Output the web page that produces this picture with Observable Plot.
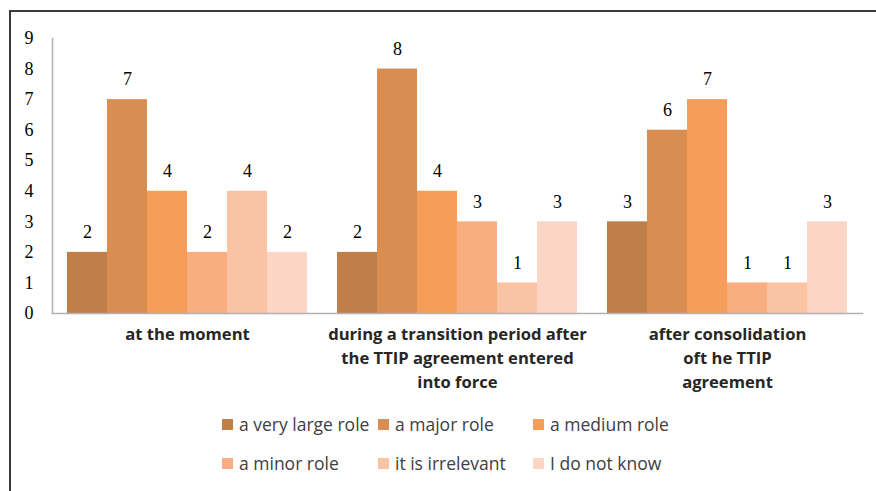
<!DOCTYPE html>
<html>
<head>
<meta charset="utf-8">
<script src="https://cdn.jsdelivr.net/npm/d3@7"></script>
<script src="https://cdn.jsdelivr.net/npm/@observablehq/plot@0.6"></script>
<style>
  html, body { margin: 0; padding: 0; background: #fff; }
  #wrap { position: relative; width: 876px; height: 491px; overflow: hidden; }
  #border { position: absolute; left: 9px; top: 10px; width: 900px; height: 520px; border: 2px solid #3a3a3a; box-sizing: border-box; }
  #chart { position: absolute; left: 0; top: 0; }
  #legend { position: absolute; left: 222px; top: 413px; display: grid; grid-template-columns: 156px 155px 160px; row-gap: 17px;
            font-family: "Open Sans", Lato, sans-serif; font-size: 17.5px; color: #404040; }
  .item { display: flex; align-items: center; height: 22px; white-space: nowrap; }
  .sw { width: 11px; height: 11px; margin-right: 6px; flex: none; }
</style>
</head>
<body>
<div id="wrap">
  <div id="border"></div>
  <div id="chart"></div>
  <div id="legend"></div>
</div>
<script>
const groups = ["at the moment", "during a transition period", "after consolidation"];
const groupLabels = ["at the moment", "during a transition period after\nthe TTIP agreement entered\ninto force", "after consolidation\noft he TTIP\nagreement"];
const series = ["a very large role", "a major role", "a medium role", "a minor role", "it is irrelevant", "I do not know"];
const valuesAtTheMoment = [2, 7, 4, 2, 4, 2];
const valuesTransition = [2, 8, 4, 3, 1, 3];
const valuesConsolidation = [3, 6, 7, 1, 1, 3];
const colors = ["#C07E48", "#DA8D50", "#F69E59", "#F8AE80", "#FAC4A4", "#FCD5C5"];
const yTicks = [0, 1, 2, 3, 4, 5, 6, 7, 8, 9];

const allValues = [valuesAtTheMoment, valuesTransition, valuesConsolidation];
const data = [];
groups.forEach((g, gi) => series.forEach((s, si) => data.push({group: g, series: s, value: allValues[gi][si]})));
const groupData = groups.map((g, i) => ({group: g, label: groupLabels[i]}));

const chart = Plot.plot({
  width: 876,
  height: 400,
  marginLeft: 52,
  marginRight: 14,
  marginTop: 38,
  marginBottom: 87,
  style: {fontFamily: "'Liberation Serif', serif", fontSize: "18px", color: "#000", background: "transparent"},
  fx: {domain: groups, padding: 0, axis: null, label: null},
  x: {domain: series, axis: null, paddingInner: 0, paddingOuter: 0.375},
  y: {domain: [0, 9], ticks: yTicks, tickSize: 0, tickPadding: 19, label: null},
  color: {domain: series, range: colors},
  marks: [
    Plot.barY(data, {fx: "group", x: "series", y: "value", fill: "series"}),
    Plot.frame({anchor: "left", facet: "super", stroke: "#B0B0B5", strokeWidth: 1.5}),
    Plot.frame({anchor: "bottom", facet: "super", stroke: "#B0B0B5", strokeWidth: 1.5}),
    Plot.text(data, {fx: "group", x: "series", y: "value", text: "value", dy: -20, fontSize: 18, fill: "#000"}),
    Plot.text(groupData, {fx: "group", text: "label", frameAnchor: "bottom", lineAnchor: "top", dy: 9, lineHeight: 1.45,
      fontFamily: "'Open Sans', Lato, sans-serif", fontWeight: "bold", fontSize: 16.6, fill: "#262626"})
  ]
});
document.getElementById("chart").appendChild(chart);

const legend = document.getElementById("legend");
series.forEach((s, i) => {
  const item = document.createElement("div");
  item.className = "item";
  const sw = document.createElement("span");
  sw.className = "sw";
  sw.style.background = colors[i];
  const t = document.createElement("span");
  t.textContent = s;
  item.appendChild(sw);
  item.appendChild(t);
  legend.appendChild(item);
});
</script>
</body>
</html>
